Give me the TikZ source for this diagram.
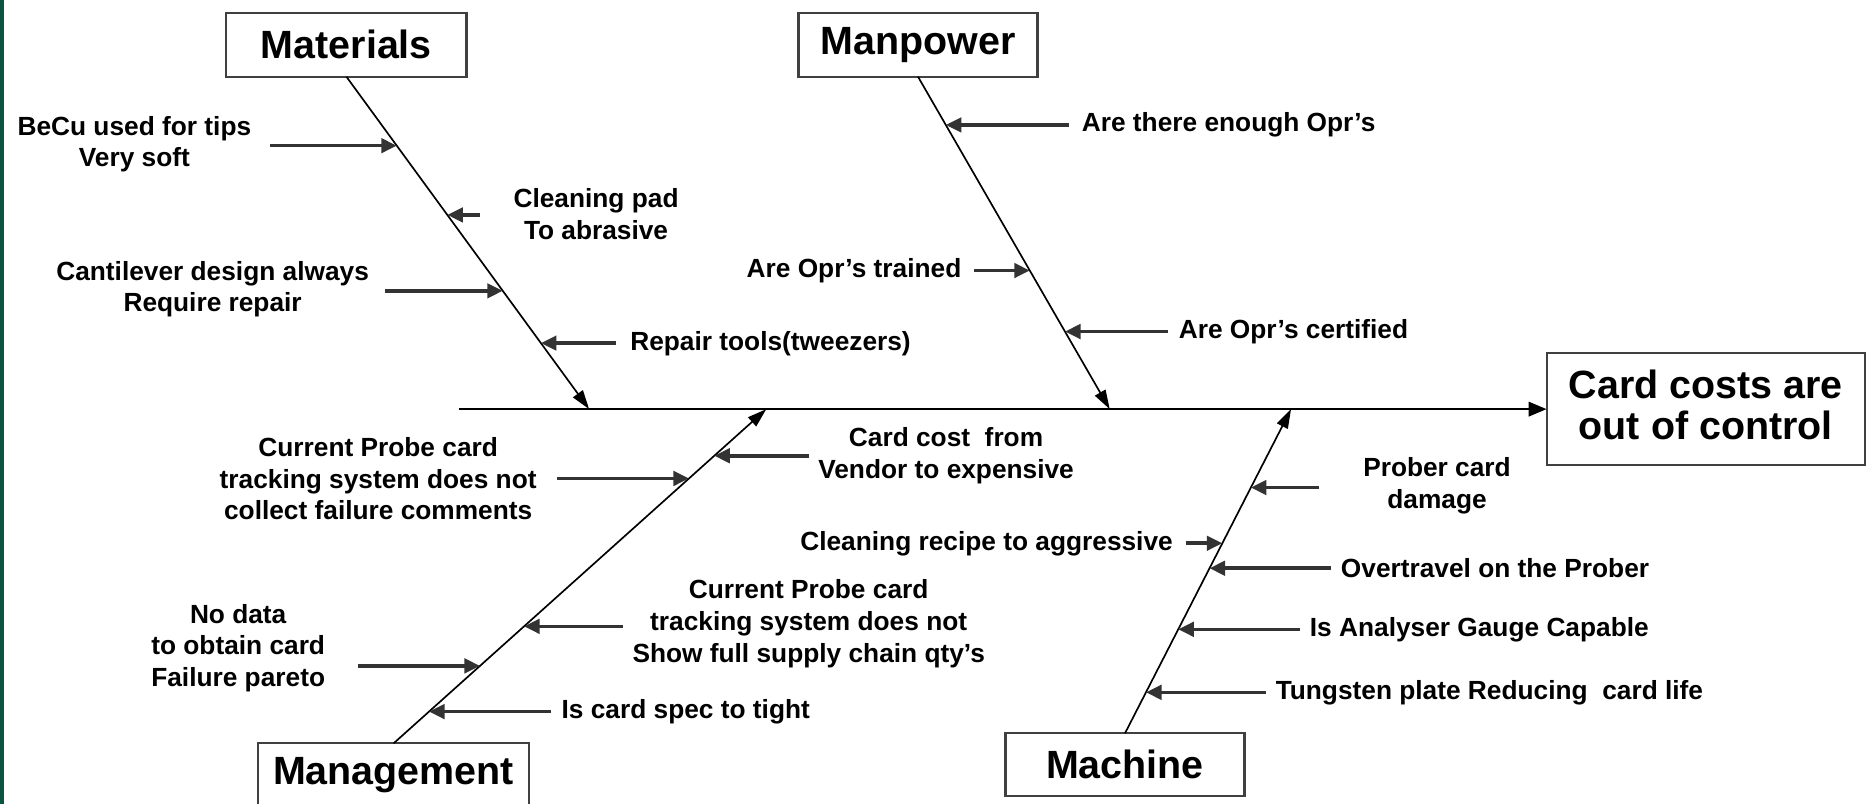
\documentclass[tikz,border=0pt]{standalone}
\usepackage{fontspec}
\setmainfont{Liberation Sans}
\usetikzlibrary{arrows.meta,calc}
\definecolor{edgegreen}{RGB}{12,84,66}
\begin{document}
\begin{tikzpicture}[x=1pt,y=-1pt,
  lab/.style={font=\fontsize{22}{26.5}\selectfont\bfseries, inner sep=0pt, align=center},
  title/.style={draw=black!75, line width=1.8pt, outer sep=0pt, fill=white, font=\fontsize{33}{34}\selectfont\bfseries, inner sep=0pt, align=center},
  spine/.style={line width=2pt, -{Triangle[length=15pt,width=12pt]}},
  bone/.style={line width=1.4pt, -{Triangle[length=16pt,width=10pt]}},
  sub/.style={line width=3pt, draw=black!80, -{Triangle[length=13pt,width=12pt]}}]
\useasboundingbox (0,0) rectangle (1568,673);
\fill[white] (0,0) rectangle (1568,673);
\fill[edgegreen] (0,0) rectangle (3.5,673);

% category boxes and effect
\node[title, minimum width=201pt, minimum height=53.6pt] (mat) at (290,37.4) {Materials};
\node[title, minimum width=200pt, minimum height=53pt] (man) at (768.5,37.7) {Manpower};
\node[title, minimum width=266.5pt, minimum height=93.5pt] (card) at (1428,342.5) {Card costs are\\out of control\vphantom{g}};
\node[title, minimum width=227pt, minimum height=53pt] (mgmt) at (329.5,648.8) {Management};
\node[title, minimum width=200pt, minimum height=52.5pt] (mach) at (941.8,640.1) {Machine};

% spine
\coordinate (tail) at (384.4,342.5);
\coordinate (jMat) at (493.2,342.5);
\coordinate (jMan) at (929,342.5);
\coordinate (jMgmt) at (641.5,342.5);
\coordinate (jMach) at (1080.8,342.5);
\draw[spine] (tail) -- (card.west);

% bones
\draw[bone] (mat.south) -- (jMat);
\draw[bone] (man.south) -- (jMan);
\draw[bone] (mgmt.north) -- (jMgmt);
\draw[bone] (mach.north) -- (jMach);

% tips on bones
\coordinate (a1) at ($(mat.south)!0.2075!(jMat)$);
\coordinate (a2) at ($(mat.south)!0.4158!(jMat)$);
\coordinate (a3) at ($(mat.south)!0.6442!(jMat)$);
\coordinate (a4) at ($(mat.south)!0.8014!(jMat)$);
\coordinate (b1) at ($(man.south)!0.1451!(jMan)$);
\coordinate (b2) at ($(man.south)!0.5831!(jMan)$);
\coordinate (b3) at ($(man.south)!0.7666!(jMan)$);
\coordinate (c1) at ($(mgmt.north)!0.8605!(jMgmt)$);
\coordinate (c2) at ($(mgmt.north)!0.7926!(jMgmt)$);
\coordinate (c3) at ($(mgmt.north)!0.3501!(jMgmt)$);
\coordinate (c4) at ($(mgmt.north)!0.2318!(jMgmt)$);
\coordinate (c5) at ($(mgmt.north)!0.0951!(jMgmt)$);
\coordinate (d1) at ($(mach.north)!0.7581!(jMach)$);
\coordinate (d2) at ($(mach.north)!0.5862!(jMach)$);
\coordinate (d3) at ($(mach.north)!0.5091!(jMach)$);
\coordinate (d4) at ($(mach.north)!0.3207!(jMach)$);
\coordinate (d5) at ($(mach.north)!0.1263!(jMach)$);

% tails (same height as their tips)
\coordinate (a1s) at (a1 -| 226,0);
\coordinate (a2s) at (a2 -| 402,0);
\coordinate (a3s) at (a3 -| 322,0);
\coordinate (a4s) at (a4 -| 516,0);
\coordinate (b1s) at (b1 -| 895,0);
\coordinate (b2s) at (b2 -| 815.8,0);
\coordinate (b3s) at (b3 -| 978,0);
\coordinate (c1s) at (c1 -| 677.5,0);
\coordinate (c2s) at (c2 -| 466,0);
\coordinate (c3s) at (c3 -| 521.3,0);
\coordinate (c4s) at (c4 -| 300,0);
\coordinate (c5s) at (c5 -| 461,0);
\coordinate (d1s) at (d1 -| 1104.2,0);
\coordinate (d2s) at (d2 -| 992.5,0);
\coordinate (d3s) at (d3 -| 1114.6,0);
\coordinate (d4s) at (d4 -| 1088.6,0);
\coordinate (d5s) at (d5 -| 1060,0);

\foreach \p in {a1,a2,a3,a4,b1,b2,b3,c1,c2,c3,c4,c5,d1,d2,d3,d4,d5}
  \draw[sub] (\p s) -- (\p);

% labels - Materials
\node[lab] (la1) at (112.5,120.7) {BeCu used for tips\\Very soft};
\node[lab] (la2) at (499,179.3) {Cleaning pad\\To abrasive};
\node[lab] (la3) at (178,242) {Cantilever design always\\Require repair};
\node[lab, anchor=west] (la4) at (527.5,287.4) {Repair tools(tweezers)};
% Manpower
\node[lab, anchor=west] (lb1) at (905.5,104.6) {Are there enough Opr's};
\node[lab, anchor=east] (lb2) at (805,226.6) {Are Opr's trained};
\node[lab, anchor=west] (lb3) at (986.7,277.7) {Are Opr's certified};
% Management
\node[lab] (lc1) at (792,381.6) {Card cost\ \ from\\Vendor to expensive};
\node[lab] (lc2) at (316.6,400.7) {Current Probe card\\tracking system does not\\collect failure comments};
\node[lab] (lc3) at (677,522) {Current Probe card\\tracking system does not\\Show full supply chain qty’s};
\node[lab] (lc4) at (199.4,542.6) {No data\\to obtain card\\Failure pareto};
\node[lab, anchor=west] (lc5) at (470,595.7) {Is card spec to tight};
% Machine
\node[lab] (ld1) at (1203,406.7) {Prober card\\damage};
\node[lab, anchor=east] (ld2) at (982,454.9) {Cleaning recipe to aggressive};
\node[lab, anchor=west] (ld3) at (1122.4,475.8) {Overtravel on the Prober};
\node[lab, anchor=west] (ld4) at (1096.4,526.9) {Is Analyser Gauge Capable};
\node[lab, anchor=west] (ld5) at (1067.8,579.6) {Tungsten plate Reducing\ \ card life};
\end{tikzpicture}
\end{document}
